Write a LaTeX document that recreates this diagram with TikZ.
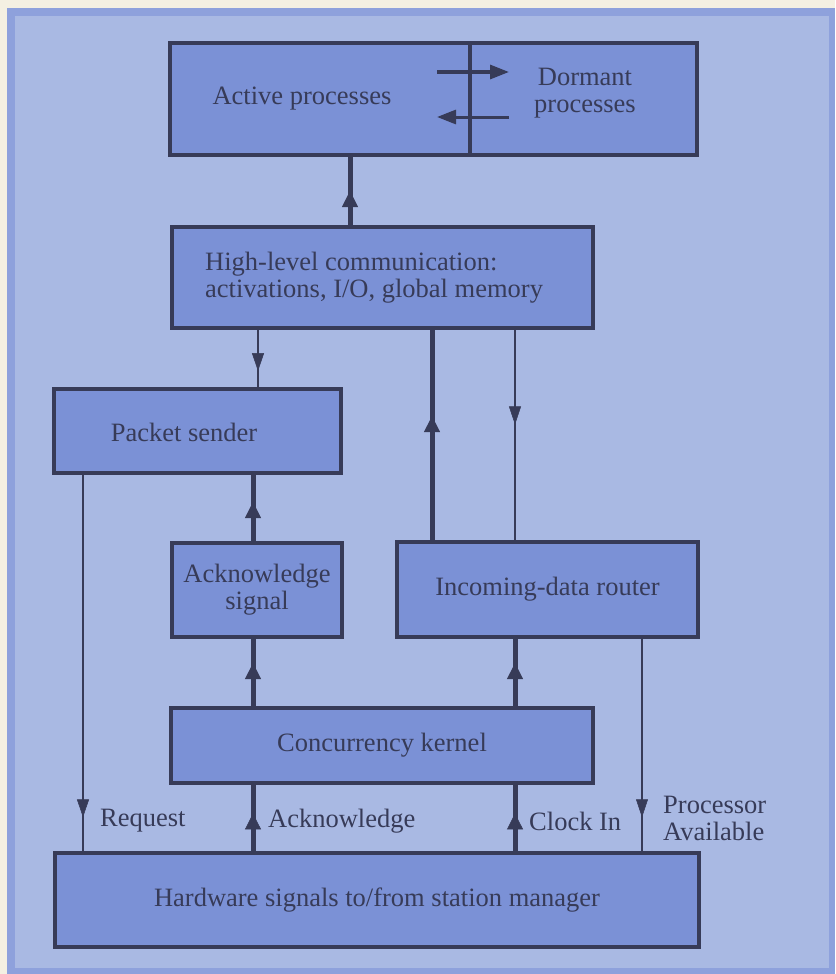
\documentclass[tikz,border=0pt]{standalone}
\usepackage{fontspec}
\setmainfont{Liberation Serif}
\usetikzlibrary{arrows.meta,decorations.markings}
\definecolor{cream}{HTML}{F4F0E2}
\definecolor{band}{HTML}{8EA1DC}
\definecolor{panel}{HTML}{A9B9E3}
\definecolor{boxfill}{HTML}{7B91D6}
\definecolor{ink}{HTML}{373B58}
\tikzset{
  every node/.style={font=\fontsize{26.5}{27}\selectfont, text=ink},
  blk/.style={draw=ink, fill=boxfill, line width=3.5pt, inner sep=0pt, align=center},
  txt/.style={inner sep=0pt, align=center},
  thickline/.style={draw=ink, line width=5pt},
  thinline/.style={draw=ink, line width=1.8pt},
  thicktip/.style={postaction=decorate, decoration={markings, mark=at position #1 with {\arrow[ink]{Triangle[width=16pt,length=16pt,line width=0.5pt]}}}},
  thintip/.style={postaction=decorate, decoration={markings, mark=at position #1 with {\arrow[ink]{Triangle[width=12pt,length=18pt,line width=0.5pt]}}}},
}
\begin{document}
\begin{tikzpicture}[x=1pt,y=-1pt]
\useasboundingbox (0,0) rectangle (835,974);
\fill[cream] (0,0) rectangle (835,974);
\fill[band] (7,8) rectangle (835,974);
\fill[panel] (15,16) rectangle (829,968);

% column coordinates
\coordinate (c83) at (83,0);
\coordinate (c253) at (253,0);
\coordinate (c258) at (258,0);
\coordinate (c350) at (350,0);
\coordinate (c432) at (432,0);
\coordinate (c515) at (515,0);
\coordinate (c642) at (642,0);

% boxes
\node[blk, minimum width=300pt, minimum height=112pt] (active) at (320,99) {};
\node[blk, minimum width=227pt, minimum height=112pt] (dormant) at (583.5,99) {};
\node[blk, minimum width=421pt, minimum height=101pt] (hl) at (382.5,277.5) {};
\node[blk, minimum width=287pt, minimum height=84pt] (ps) at (197.5,431) {};
\node[blk, minimum width=170pt, minimum height=94pt] (ack) at (257,590) {Acknowledge\\signal};
\node[blk, minimum width=301pt, minimum height=95pt] (router) at (547.5,589.5) {Incoming-data router};
\node[blk, minimum width=422pt, minimum height=75pt] (kernel) at (382,745.5) {Concurrency kernel};
\node[blk, minimum width=644pt, minimum height=94pt] (hw) at (377,900) {Hardware signals to/from station manager};

% texts inside boxes
\node[txt] (activetxt) at (302,99) {Active processes};
\node[txt] (dormanttxt) at (585,93) {Dormant\\processes};
\node[txt, anchor=west, align=left] (hltxt) at (205,278) {High-level communication:\\activations, I/O, global memory};
\node[txt] (pstxt) at (184,432) {Packet sender};

% arrows between active and dormant
\coordinate (ra) at (437,72);
\coordinate (rb) at (509,72);
\coordinate (la) at (509,117);
\coordinate (lb) at (437,117);
\draw[draw=ink, line width=3pt, -{Triangle[width=14pt,length=19pt]}] (ra) -- (rb);
\draw[draw=ink, line width=3pt, -{Triangle[width=14pt,length=19pt]}] (la) -- (lb);

% connectors
\draw[thickline, thicktip=0.5] (hl.north -| c350) -- (active.south -| c350);
\draw[thinline, thintip=0.72] (hl.south -| c258) -- (ps.north -| c258);
\draw[thickline, thicktip=0.59] (router.north -| c432) -- (hl.south -| c432);
\draw[thinline, thintip=0.45] (hl.south -| c515) -- (router.north -| c515);
\draw[thickline, thicktip=0.59] (ack.north -| c253) -- (ps.south -| c253);
\draw[thickline, thicktip=0.64] (kernel.north -| c253) -- (ack.south -| c253);
\draw[thickline, thicktip=0.64] (kernel.north -| c515) -- (router.south -| c515);
\draw[thickline, thicktip=0.57] (hw.north -| c253) -- (kernel.south -| c253);
\draw[thickline, thicktip=0.57] (hw.north -| c515) -- (kernel.south -| c515);
\draw[thinline, thintip=0.91] (ps.south -| c83) -- (hw.north -| c83);
\draw[thinline, thintip=0.84] (router.south -| c642) -- (hw.north -| c642);

% labels
\node[txt, anchor=west] (lreq) at (100,821) {Request};
\node[txt, anchor=west] (lack) at (268,821) {Acknowledge};
\node[txt, anchor=west] (lclk) at (529,821) {Clock In};
\node[txt, anchor=west, align=left] (lproc) at (663,818) {Processor\\Available};
\end{tikzpicture}
\end{document}
